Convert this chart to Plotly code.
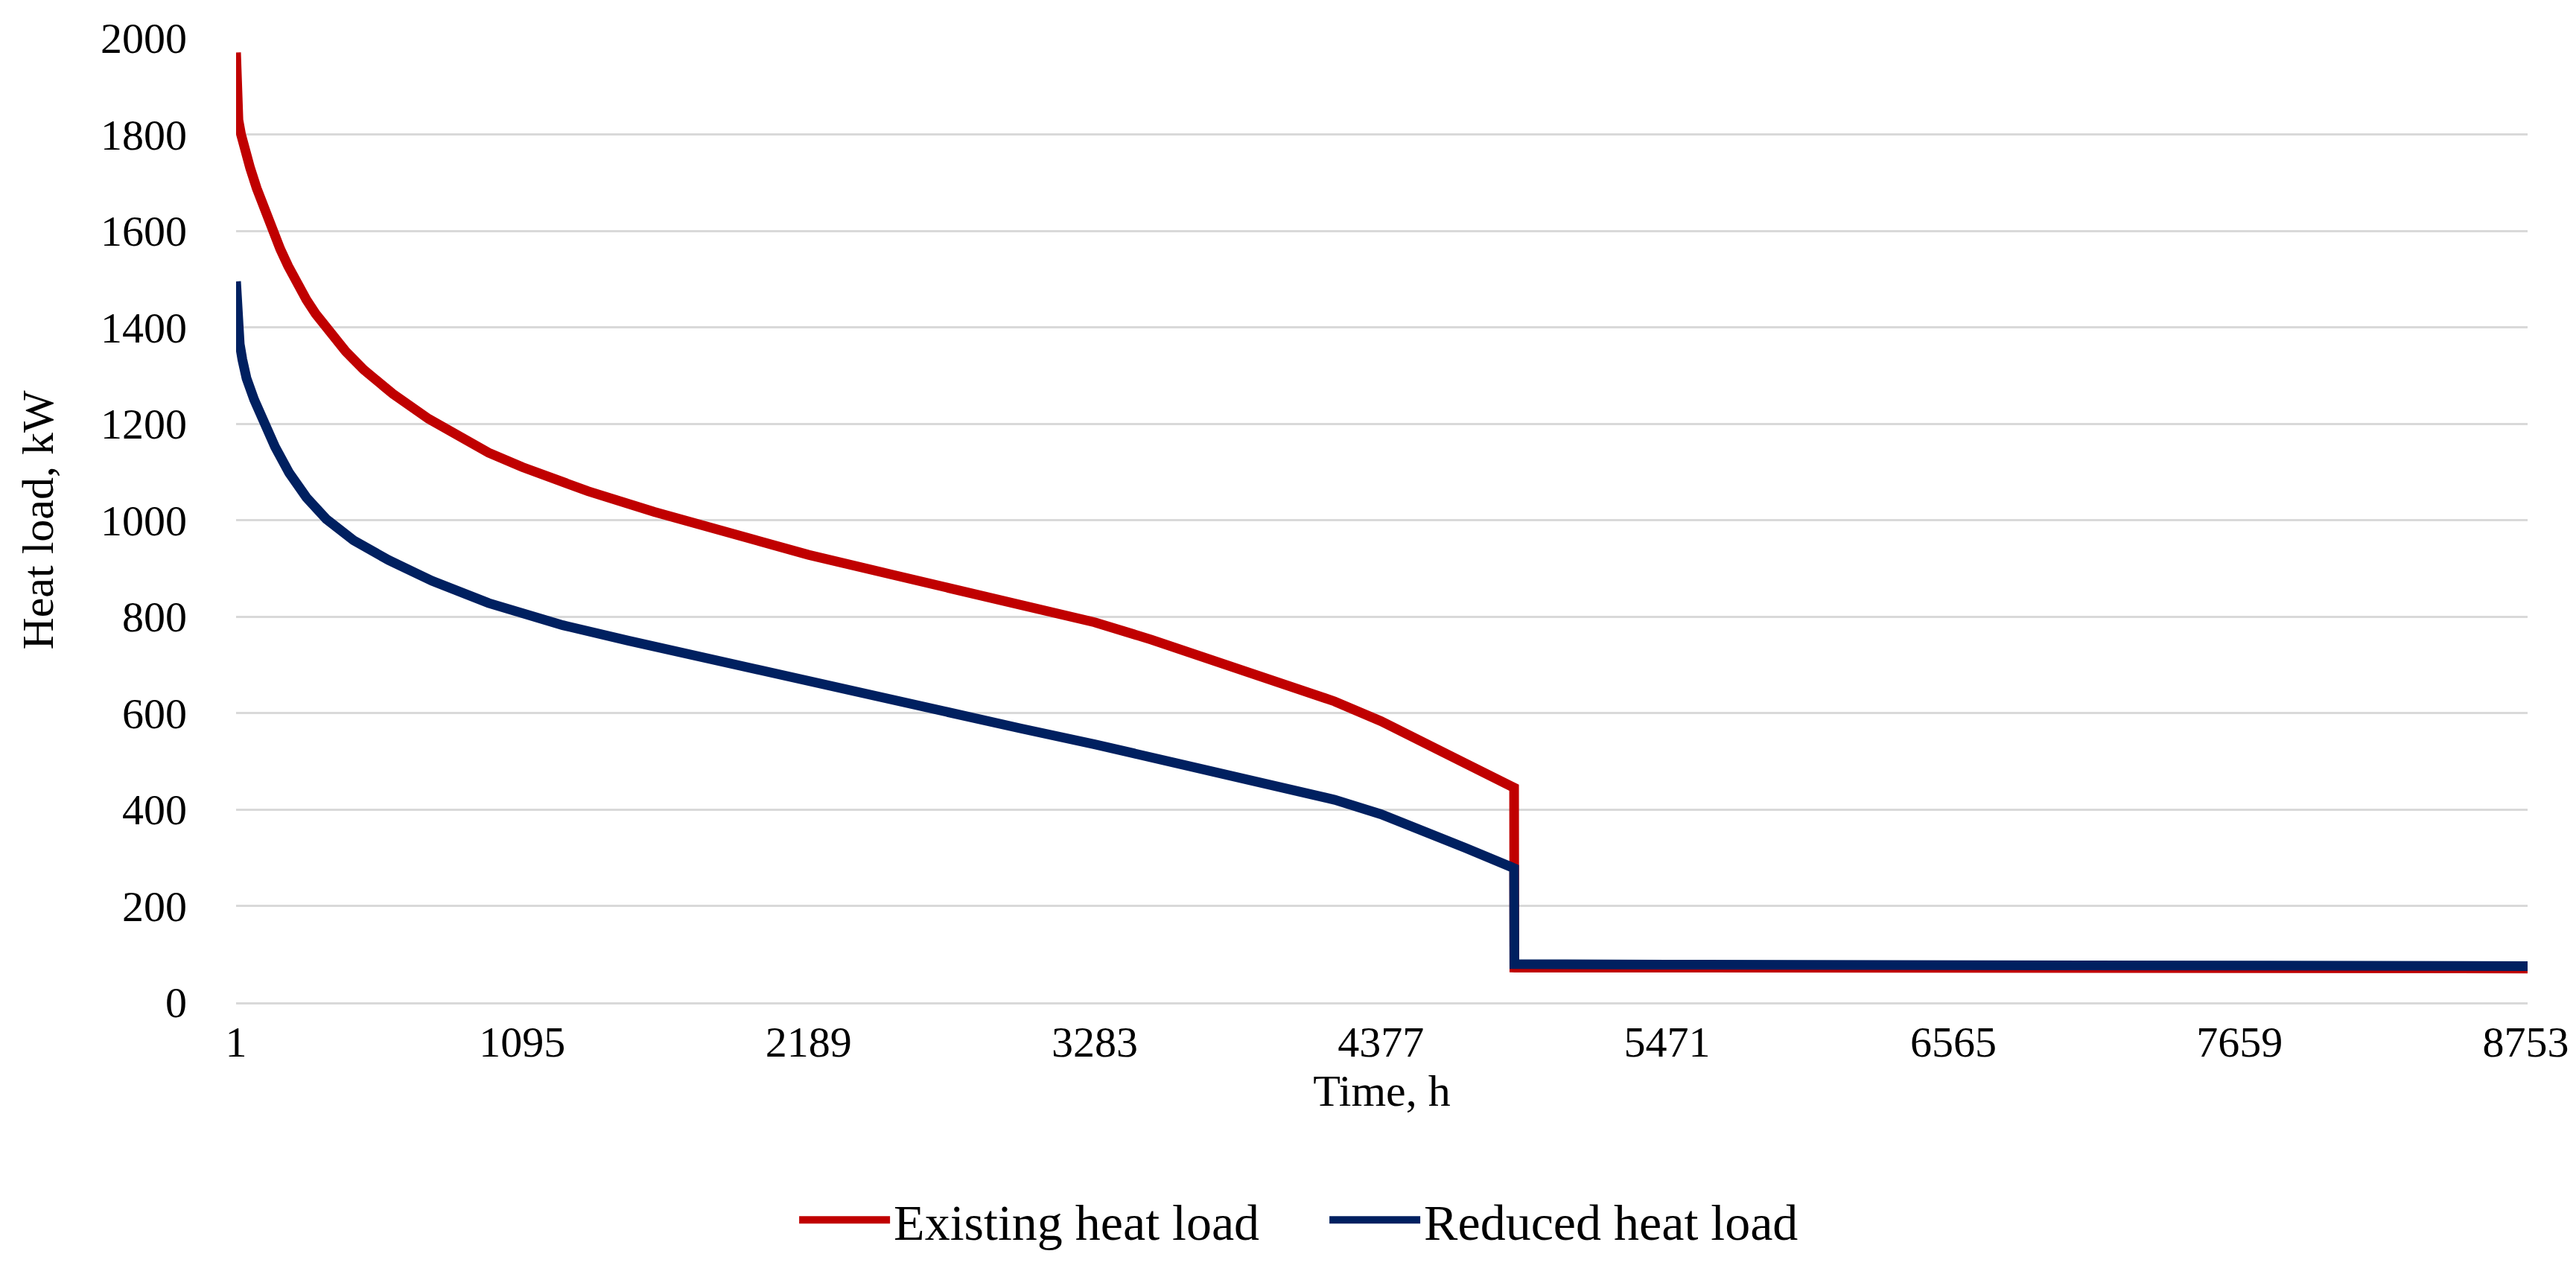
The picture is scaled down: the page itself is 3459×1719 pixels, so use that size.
import plotly.graph_objects as go

# ---- data ----
hours_existing = [1, 3, 6, 10, 20, 35, 55, 80, 110, 140, 170, 200, 235, 270, 305,
                  340, 420, 489, 600, 737, 850, 966, 1095, 1346, 1600, 2000, 2189,
                  2500, 3000, 3283, 3500, 4000, 4200, 4377, 4530, 4700, 4886, 4887,
                  5471, 6565, 7659, 8760]
load_existing = [1970, 1905, 1860, 1830, 1800, 1765, 1730, 1688, 1642, 1600, 1562,
                 1527, 1490, 1457, 1428, 1402, 1350, 1312, 1262, 1210, 1174, 1140,
                 1110, 1060, 1017, 955, 928, 888, 825, 788, 752, 664, 624, 583, 542,
                 496, 445, 72, 72, 71, 71, 70]

hours_reduced = [1, 4, 8, 15, 25, 41, 70, 109, 150, 204, 270, 346, 450, 584, 750,
                 966, 1095, 1250, 1500, 2000, 2189, 2500, 3000, 3283, 3500, 4000,
                 4200, 4377, 4530, 4700, 4886, 4887, 5471, 6565, 7659, 8760]
load_reduced = [1495, 1430, 1398, 1365, 1333, 1294, 1250, 1200, 1152, 1098, 1047,
                1002, 958, 917, 874, 828, 805, 782, 750, 688, 664, 627, 568, 535,
                508, 447, 420, 390, 358, 320, 278, 79, 78, 77, 76, 75]

x_ticks = [1, 1095, 2189, 3283, 4377, 5471, 6565, 7659, 8753]
y_ticks = [0, 200, 400, 600, 800, 1000, 1200, 1400, 1600, 1800, 2000]

series_names = ["Existing heat load", "Reduced heat load"]
series_colors = ["#C00000", "#002060"]

FONT = "Liberation Serif"

fig = go.Figure()
fig.add_trace(go.Scatter(x=hours_existing, y=load_existing, mode="lines",
                         name=series_names[0],
                         line=dict(color=series_colors[0], width=13)))
fig.add_trace(go.Scatter(x=hours_reduced, y=load_reduced, mode="lines",
                         name=series_names[1],
                         line=dict(color=series_colors[1], width=13)))

fig.update_layout(
    width=3459, height=1719,
    margin=dict(l=309, r=73, t=43, b=381),
    paper_bgcolor="white", plot_bgcolor="white",
    font=dict(family=FONT, size=58, color="#000000"),
    showlegend=True,
    legend=dict(orientation="h", x=0.4755, xanchor="center", y=-0.226,
                yanchor="middle", font=dict(family=FONT, size=68, color="#000000"),
                itemwidth=122, entrywidth=575, entrywidthmode="pixels",
                bgcolor="rgba(0,0,0,0)"),
)

fig.update_xaxes(
    range=[1, 8760], tickmode="array", tickvals=x_ticks,
    ticktext=[str(v) for v in x_ticks],
    showgrid=False, zeroline=False,
    showline=True, linecolor="#D9D9D9", linewidth=3,
    ticks="", ticklabelstandoff=0,
    tickfont=dict(family=FONT, size=58, color="#000000"),
    title=dict(text="Time, h", font=dict(family=FONT, size=60, color="#000000"),
               standoff=0),
)
fig.update_yaxes(
    range=[0, 2000], tickmode="array", tickvals=y_ticks,
    showgrid=True, gridcolor="#D9D9D9", gridwidth=3,
    zeroline=False, showline=False, ticks="", ticklabelstandoff=65,
    tickfont=dict(family=FONT, size=58, color="#000000"),
    title=dict(text="Heat load, kW", font=dict(family=FONT, size=60, color="#000000"),
               standoff=44),
)

fig.write_html("out.html")
